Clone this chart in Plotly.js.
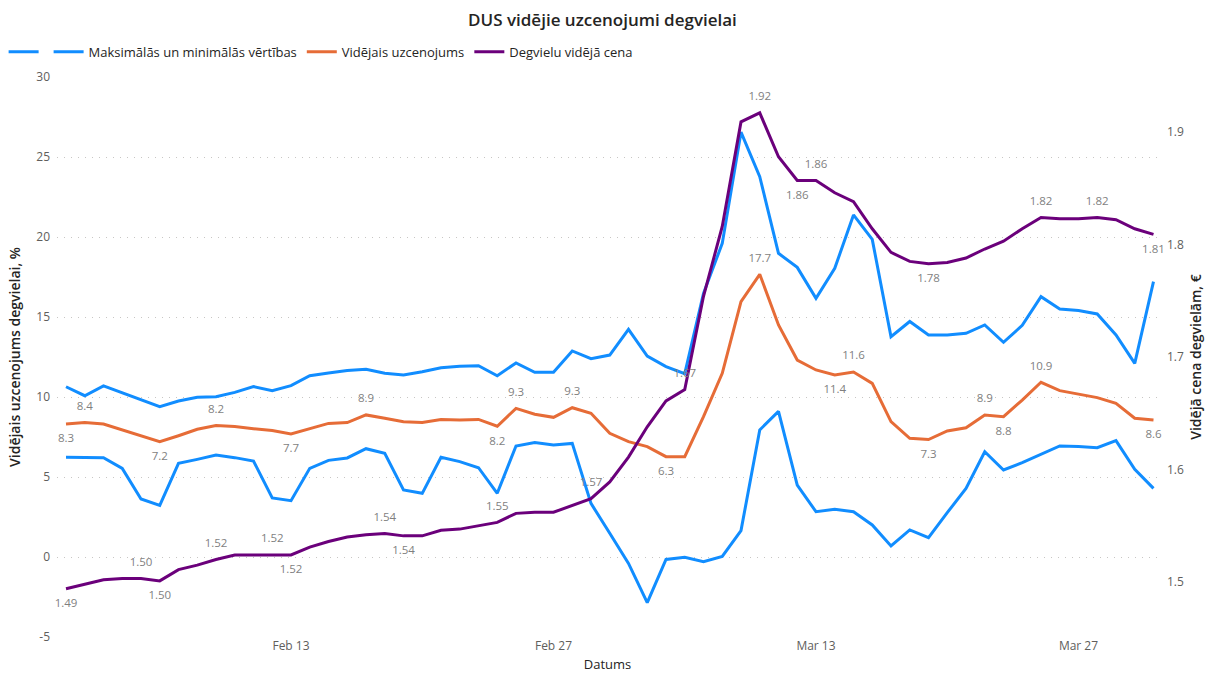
<!DOCTYPE html>
<html>
<head>
<meta charset="utf-8">
<script src="https://cdn.plot.ly/plotly-3.0.1.min.js"></script>
<style>html,body{margin:0;padding:0;background:#fff;}#chart{width:1205px;height:673px;}</style>
</head>
<body>
<div id="chart"></div>
<script>
const dates = ['2022-02-01','2022-02-02','2022-02-03','2022-02-04','2022-02-05','2022-02-06','2022-02-07','2022-02-08','2022-02-09','2022-02-10',
'2022-02-11','2022-02-12','2022-02-13','2022-02-14','2022-02-15','2022-02-16','2022-02-17','2022-02-18','2022-02-19','2022-02-20',
'2022-02-21','2022-02-22','2022-02-23','2022-02-24','2022-02-25','2022-02-26','2022-02-27','2022-02-28','2022-03-01','2022-03-02',
'2022-03-03','2022-03-04','2022-03-05','2022-03-06','2022-03-07','2022-03-08','2022-03-09','2022-03-10','2022-03-11','2022-03-12',
'2022-03-13','2022-03-14','2022-03-15','2022-03-16','2022-03-17','2022-03-18','2022-03-19','2022-03-20','2022-03-21','2022-03-22',
'2022-03-23','2022-03-24','2022-03-25','2022-03-26','2022-03-27','2022-03-28','2022-03-29','2022-03-30','2022-03-31'];

const maxValues = [10.64,10.08,10.69,10.27,9.85,9.40,9.75,9.98,10.02,10.29,
10.65,10.40,10.71,11.33,11.50,11.65,11.73,11.48,11.38,11.58,
11.83,11.92,11.96,11.33,12.13,11.54,11.54,12.88,12.40,12.62,
14.23,12.56,11.90,11.46,16.48,19.60,26.55,23.77,18.98,18.10,
16.17,18.04,21.38,19.85,13.77,14.72,13.88,13.88,13.98,14.50,
13.42,14.48,16.27,15.50,15.40,15.19,13.88,12.10,17.21];

const minValues = [6.23,6.21,6.21,5.54,3.63,3.23,5.85,6.10,6.37,6.21,
6.00,3.69,3.52,5.54,6.04,6.19,6.77,6.48,4.19,3.98,
6.23,5.96,5.58,3.98,6.94,7.15,7.00,7.10,3.35,1.48,
-0.40,-2.85,-0.15,-0.02,-0.29,0.04,1.65,7.94,9.10,4.50,
2.83,2.98,2.83,2.00,0.69,1.69,1.21,2.77,4.29,6.58,
5.44,5.90,6.44,6.94,6.90,6.83,7.27,5.48,4.29];

const avgMarkup = [8.31,8.40,8.31,7.94,7.60,7.20,7.58,7.98,8.22,8.15,
8.02,7.90,7.69,8.04,8.35,8.40,8.88,8.67,8.46,8.40,
8.60,8.56,8.60,8.17,9.29,8.92,8.73,9.33,8.98,7.73,
7.21,6.90,6.27,6.27,8.77,11.48,15.96,17.67,14.50,12.31,
11.69,11.38,11.56,10.85,8.46,7.42,7.34,7.88,8.08,8.88,
8.77,9.81,10.92,10.40,10.17,9.96,9.60,8.67,8.56];

const fuelPrice = [1.494,1.498,1.502,1.503,1.503,1.501,1.511,1.515,1.520,1.524,
1.524,1.524,1.524,1.531,1.536,1.540,1.542,1.543,1.541,1.541,
1.546,1.547,1.550,1.553,1.561,1.562,1.562,1.568,1.574,1.589,
1.611,1.638,1.661,1.671,1.754,1.816,1.909,1.917,1.878,1.857,
1.857,1.846,1.838,1.814,1.793,1.785,1.783,1.784,1.788,1.796,
1.803,1.814,1.824,1.823,1.823,1.824,1.822,1.814,1.809];

const xTickVals = ['2022-02-13','2022-02-27','2022-03-13','2022-03-27'];
const xTickText = ['Feb 13','Feb 27','Mar 13','Mar 27'];
const yTickVals = [-5,0,5,10,15,20,25,30];
const yTickText = ['-5','0','5','10','15','20','25','30'];
const y2TickVals = [1.5,1.6,1.7,1.8,1.9];
const y2TickText = ['1.5','1.6','1.7','1.8','1.9'];

// indices of data labels (above / below the line)
const markupLabelsTop = [1,8,16,24,27,37,42,49,52];
const markupLabelsBottom = [0,5,12,23,32,41,46,50,58];
const priceLabelsTop = [4,8,11,17,23,28,33,37,40,52,55];
const priceLabelsBottom = [0,5,12,18,39,46,58];

function buildLabels(vals, top, bottom, dec) {
  const f = Math.pow(10, dec);
  const text = vals.map(() => '');
  const pos = vals.map(() => 'top center');
  top.forEach(i => { text[i] = (Math.round(vals[i] * f) / f).toFixed(dec); pos[i] = 'top center'; });
  bottom.forEach(i => { text[i] = (Math.round(vals[i] * f) / f).toFixed(dec); pos[i] = 'bottom center'; });
  return {text, pos};
}
const mk = buildLabels(avgMarkup, markupLabelsTop, markupLabelsBottom, 1);
const pr = buildLabels(fuelPrice, priceLabelsTop, priceLabelsBottom, 2);

const FONT = 'Open Sans, Noto Sans, sans-serif';
const labelFont = {family: FONT, size: 11.5, color: '#7f7f7f'};
const ghostMarker = {size: 14, opacity: 0};

const traces = [
  {x: dates, y: maxValues, type: 'scatter', mode: 'lines', name: '',
   line: {color: '#118DFF', width: 3}, hoverinfo: 'skip'},
  {x: dates, y: minValues, type: 'scatter', mode: 'lines', name: 'Maksimālās un minimālās vērtības',
   line: {color: '#118DFF', width: 3}, hoverinfo: 'skip'},
  {x: dates, y: avgMarkup, type: 'scatter', mode: 'lines', name: 'Vidējais uzcenojums',
   line: {color: '#E66C37', width: 3}, hoverinfo: 'skip'},
  {x: dates, y: fuelPrice, type: 'scatter', mode: 'lines', name: 'Degvielu vidējā cena', yaxis: 'y2',
   line: {color: '#6B007B', width: 3}, hoverinfo: 'skip'},
  {x: dates, y: avgMarkup, type: 'scatter', mode: 'markers+text', showlegend: false,
   marker: ghostMarker, text: mk.text, textposition: mk.pos, textfont: labelFont, cliponaxis: false, hoverinfo: 'skip'},
  {x: dates, y: fuelPrice, type: 'scatter', mode: 'markers+text', showlegend: false, yaxis: 'y2',
   marker: ghostMarker, text: pr.text, textposition: pr.pos, textfont: labelFont, cliponaxis: false, hoverinfo: 'skip'}
];

const layout = {
  width: 1205, height: 673,
  paper_bgcolor: '#ffffff', plot_bgcolor: '#ffffff',
  margin: {l: 57, r: 47, t: 77, b: 36, autoexpand: false},
  font: {family: FONT, color: '#252423'},
  title: {text: 'DUS vidējie uzcenojumi degvielai', x: 0.5, xanchor: 'center', y: 0.97, yanchor: 'middle',
          font: {family: FONT, size: 17, color: '#252423', weight: 600}},
  showlegend: true,
  legend: {orientation: 'h', xref: 'container', yref: 'container', x: 0.003, xanchor: 'left', y: 0.923, yanchor: 'middle',
           font: {family: FONT, size: 13, color: '#252423'}, itemwidth: 30, tracegroupgap: 0, traceorder: 'normal'},
  xaxis: {type: 'date', range: ['2022-01-31 12:29', '2022-03-31 05:46'],
          tickvals: xTickVals, ticktext: xTickText, showgrid: false, zeroline: false, showline: false,
          ticks: '', tickfont: {family: FONT, size: 12, color: '#605E5C'},
          title: {text: 'Datums', font: {family: FONT, size: 13, color: '#252423'}, standoff: 6}},
  yaxis: {range: [-5, 30], tickvals: yTickVals, ticktext: yTickText, showgrid: true, gridcolor: '#C8C6C4', griddash: '1px,6px', gridwidth: 1,
          zeroline: false, showline: false, ticks: '', tickfont: {family: FONT, size: 12, color: '#605E5C'},
          ticklabelstandoff: 6,
          title: {text: 'Vidējais uzcenojums degvielai, %', font: {family: FONT, size: 14, color: '#252423', weight: 600}, standoff: 12}},
  yaxis2: {overlaying: 'y', side: 'right', range: [1.4511, 1.9489], tickvals: y2TickVals, ticktext: y2TickText,
           showgrid: false, zeroline: false, showline: false, ticks: '',
           tickfont: {family: FONT, size: 12, color: '#605E5C'}, ticklabelstandoff: 8,
           title: {text: 'Vidējā cena degvielām, €', font: {family: FONT, size: 14, color: '#252423', weight: 600}, standoff: 14}}
};

Plotly.newPlot('chart', traces, layout, {displayModeBar: false, staticPlot: true});
</script>
</body>
</html>
